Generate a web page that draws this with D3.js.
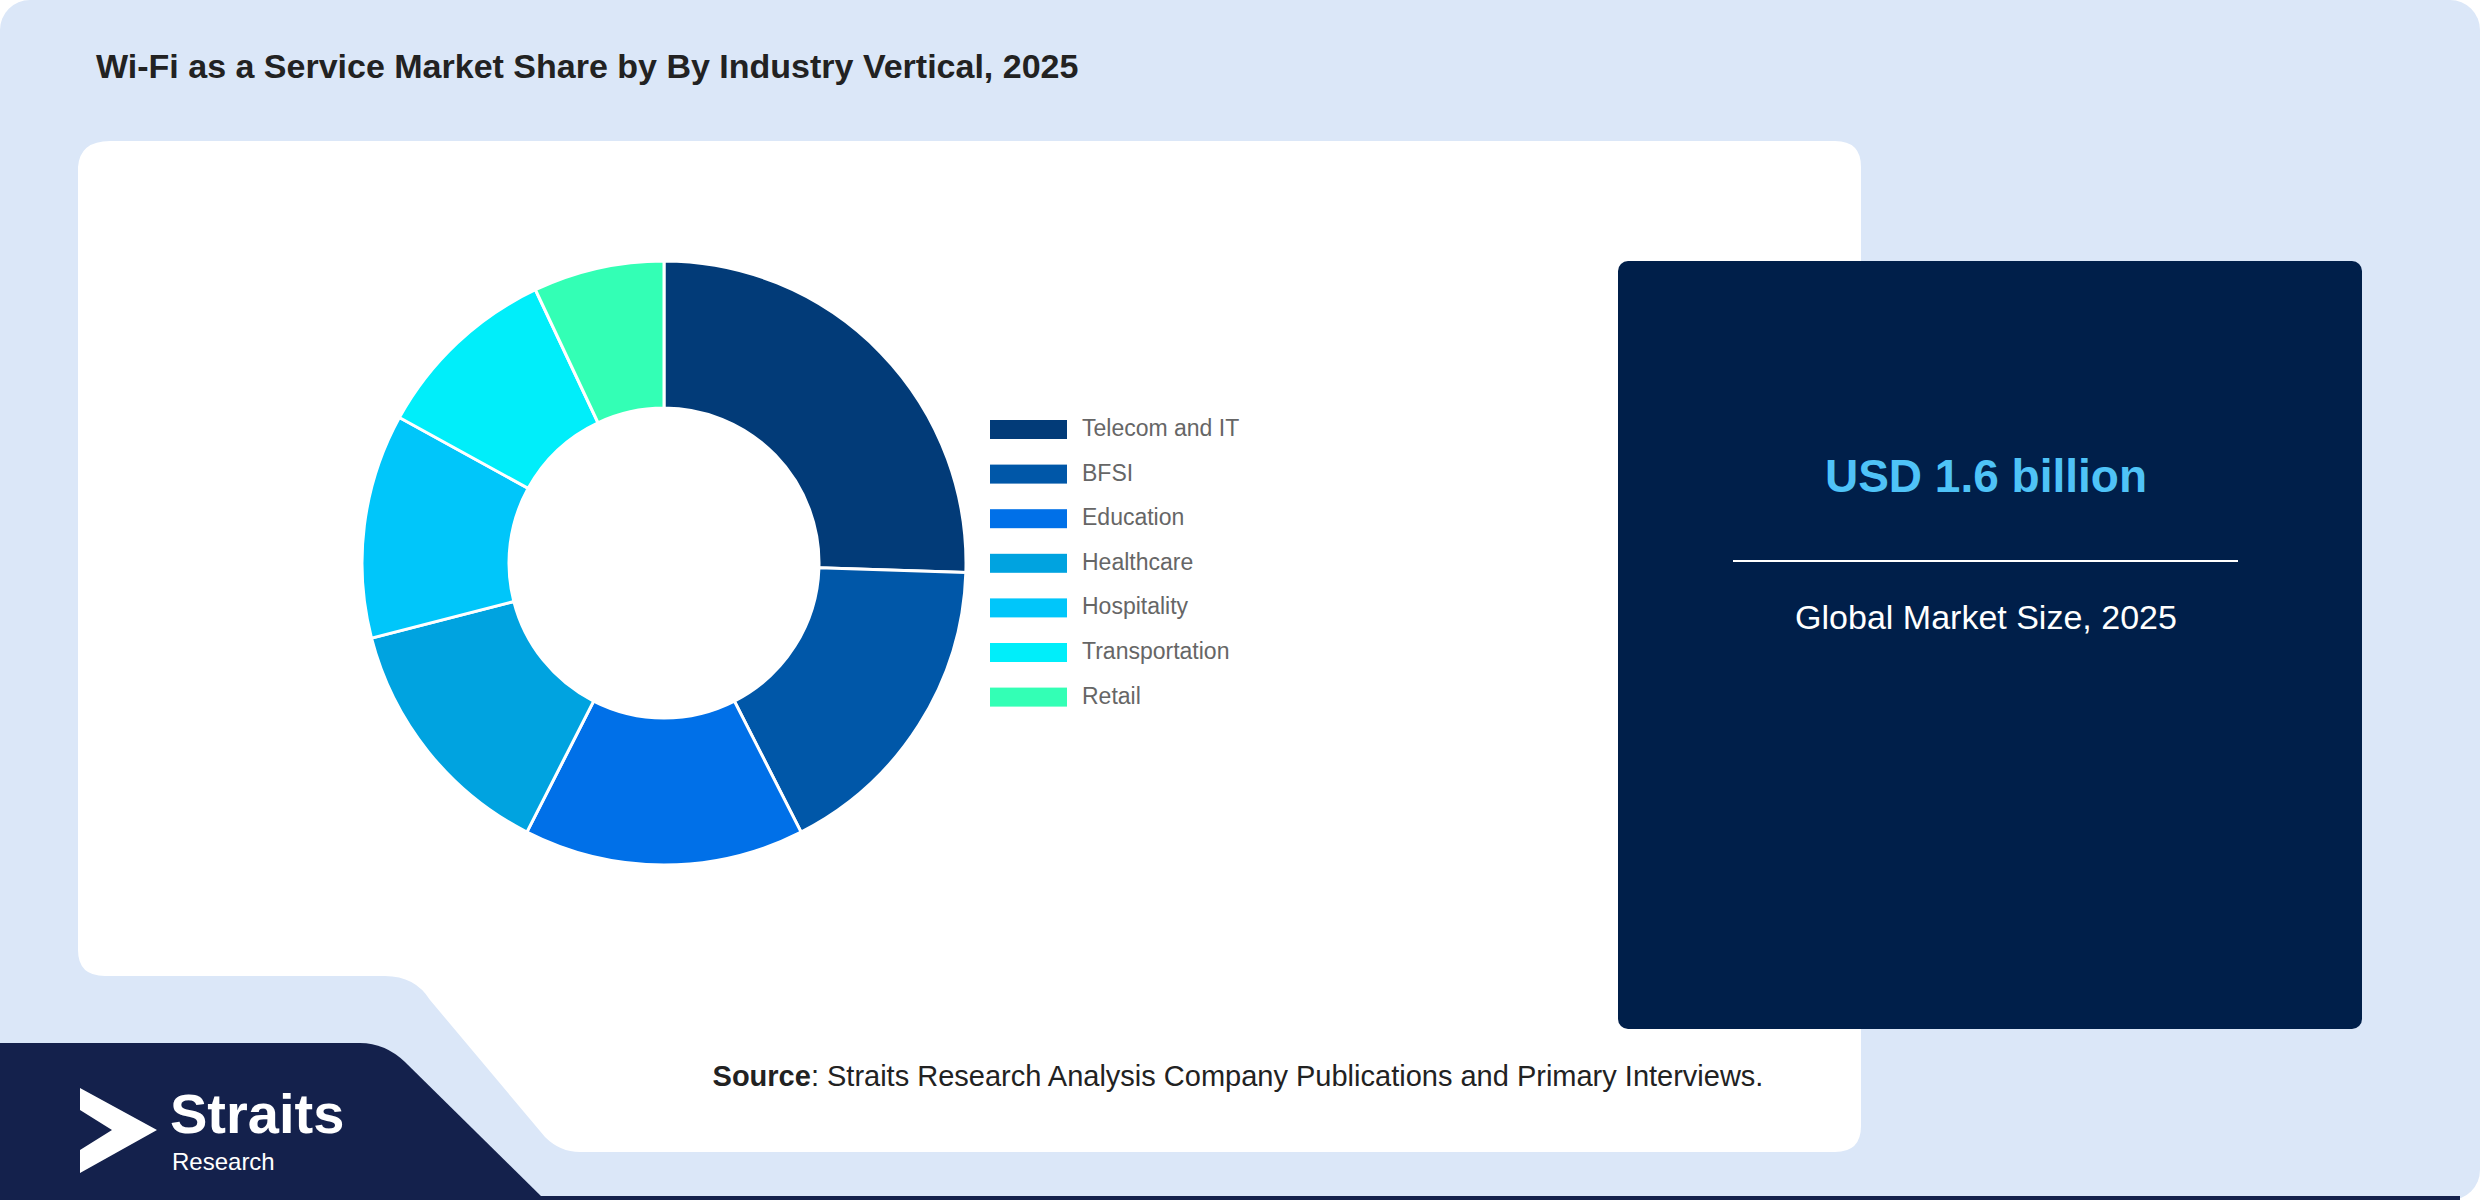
<!DOCTYPE html>
<html lang="en">
<head>
<meta charset="utf-8">
<title>Wi-Fi as a Service Market Share</title>
<style>
  body { margin: 0; background: #fff; }
  text { font-family: "Liberation Sans", Arial, sans-serif; }
</style>
</head>
<body>
<div id="chart"></div>
<script src="https://cdn.jsdelivr.net/npm/d3@7"></script>
<script>
var width = 2480, height = 1200;

var categories = ["Telecom and IT", "BFSI", "Education", "Healthcare", "Hospitality", "Transportation", "Retail"];
var shares = [25.5, 17, 15, 13.5, 12, 10, 7];
var colors = ["#023b78", "#0057a8", "#0070e8", "#00a3e0", "#00c6fa", "#00eefa", "#33ffb5"];

var svg = d3.select("#chart").append("svg")
    .attr("width", width).attr("height", height);

// background
svg.append("rect").attr("width", width).attr("height", height).attr("rx", 30).attr("fill", "#dbe7f8");

// white panel with notch at bottom left
svg.append("path")
    .attr("d", "M110,141 H1835 Q1861,141 1861,167 V1126 Q1861,1152 1835,1152 H580 Q560,1152 545,1137 L430,1000 Q415,976 385,976 H105 Q78,976 78,950 V167 Q80,141 110,141 Z")
    .attr("fill", "#fff");

// navy logo band
svg.append("path")
    .attr("d", "M0,1043 H360 Q385,1043 405,1062 L545,1200 H0 Z")
    .attr("fill", "#14214c");
svg.append("rect").attr("x", 520).attr("y", 1196).attr("width", 1940).attr("height", 4).attr("fill", "#14214c");

// title
svg.append("text").attr("x", 96).attr("y", 78)
    .style("font-size", "34px").style("font-weight", "bold").style("fill", "#222")
    .text("Wi-Fi as a Service Market Share by By Industry Vertical, 2025");

// donut
var pie = d3.pie().sort(null).value(function(d) { return d; });
var arc = d3.arc().innerRadius(155).outerRadius(302);
var g = svg.append("g").attr("transform", "translate(664,563)");
g.selectAll("path").data(pie(shares)).enter().append("path")
    .attr("d", arc)
    .attr("fill", function(d, i) { return colors[i]; })
    .attr("stroke", "#fff").attr("stroke-width", 3);

// legend
var legend = svg.append("g").attr("transform", "translate(990,420)");
var rows = legend.selectAll("g").data(categories).enter().append("g")
    .attr("transform", function(d, i) { return "translate(0," + i * 44.6 + ")"; });
rows.append("rect").attr("width", 77).attr("height", 19).attr("fill", function(d, i) { return colors[i]; });
rows.append("text").attr("x", 92).attr("y", 16)
    .style("font-size", "23px").style("fill", "#666")
    .text(function(d) { return d; });

// info box
svg.append("rect").attr("x", 1618).attr("y", 261).attr("width", 744).attr("height", 768)
    .attr("rx", 10).attr("fill", "#001f4a");
svg.append("text").attr("x", 1986).attr("y", 492).attr("text-anchor", "middle")
    .style("font-size", "46px").style("font-weight", "bold").style("fill", "#4fc3f7")
    .text("USD 1.6 billion");
svg.append("line").attr("x1", 1733).attr("x2", 2238).attr("y1", 561).attr("y2", 561)
    .attr("stroke", "#fff").attr("stroke-width", 2);
svg.append("text").attr("x", 1986).attr("y", 629).attr("text-anchor", "middle")
    .style("font-size", "34px").style("fill", "#fff")
    .text("Global Market Size, 2025");

// source
var src = svg.append("text").attr("x", 1238).attr("y", 1086).attr("text-anchor", "middle")
    .style("font-size", "29px").style("fill", "#222");
src.append("tspan").style("font-weight", "bold").text("Source");
src.append("tspan").text(": Straits Research Analysis Company Publications and Primary Interviews.");

// logo
svg.append("path")
    .attr("d", "M80,1088 L157,1130 L80,1173 L80,1150 L112,1130 L80,1110 Z")
    .attr("fill", "#fff");
svg.append("text").attr("x", 170).attr("y", 1133)
    .style("font-size", "56px").style("font-weight", "bold").style("fill", "#fff").text("Straits");
svg.append("text").attr("x", 172).attr("y", 1170)
    .style("font-size", "24px").style("fill", "#fff").text("Research");
</script>
</body>
</html>
